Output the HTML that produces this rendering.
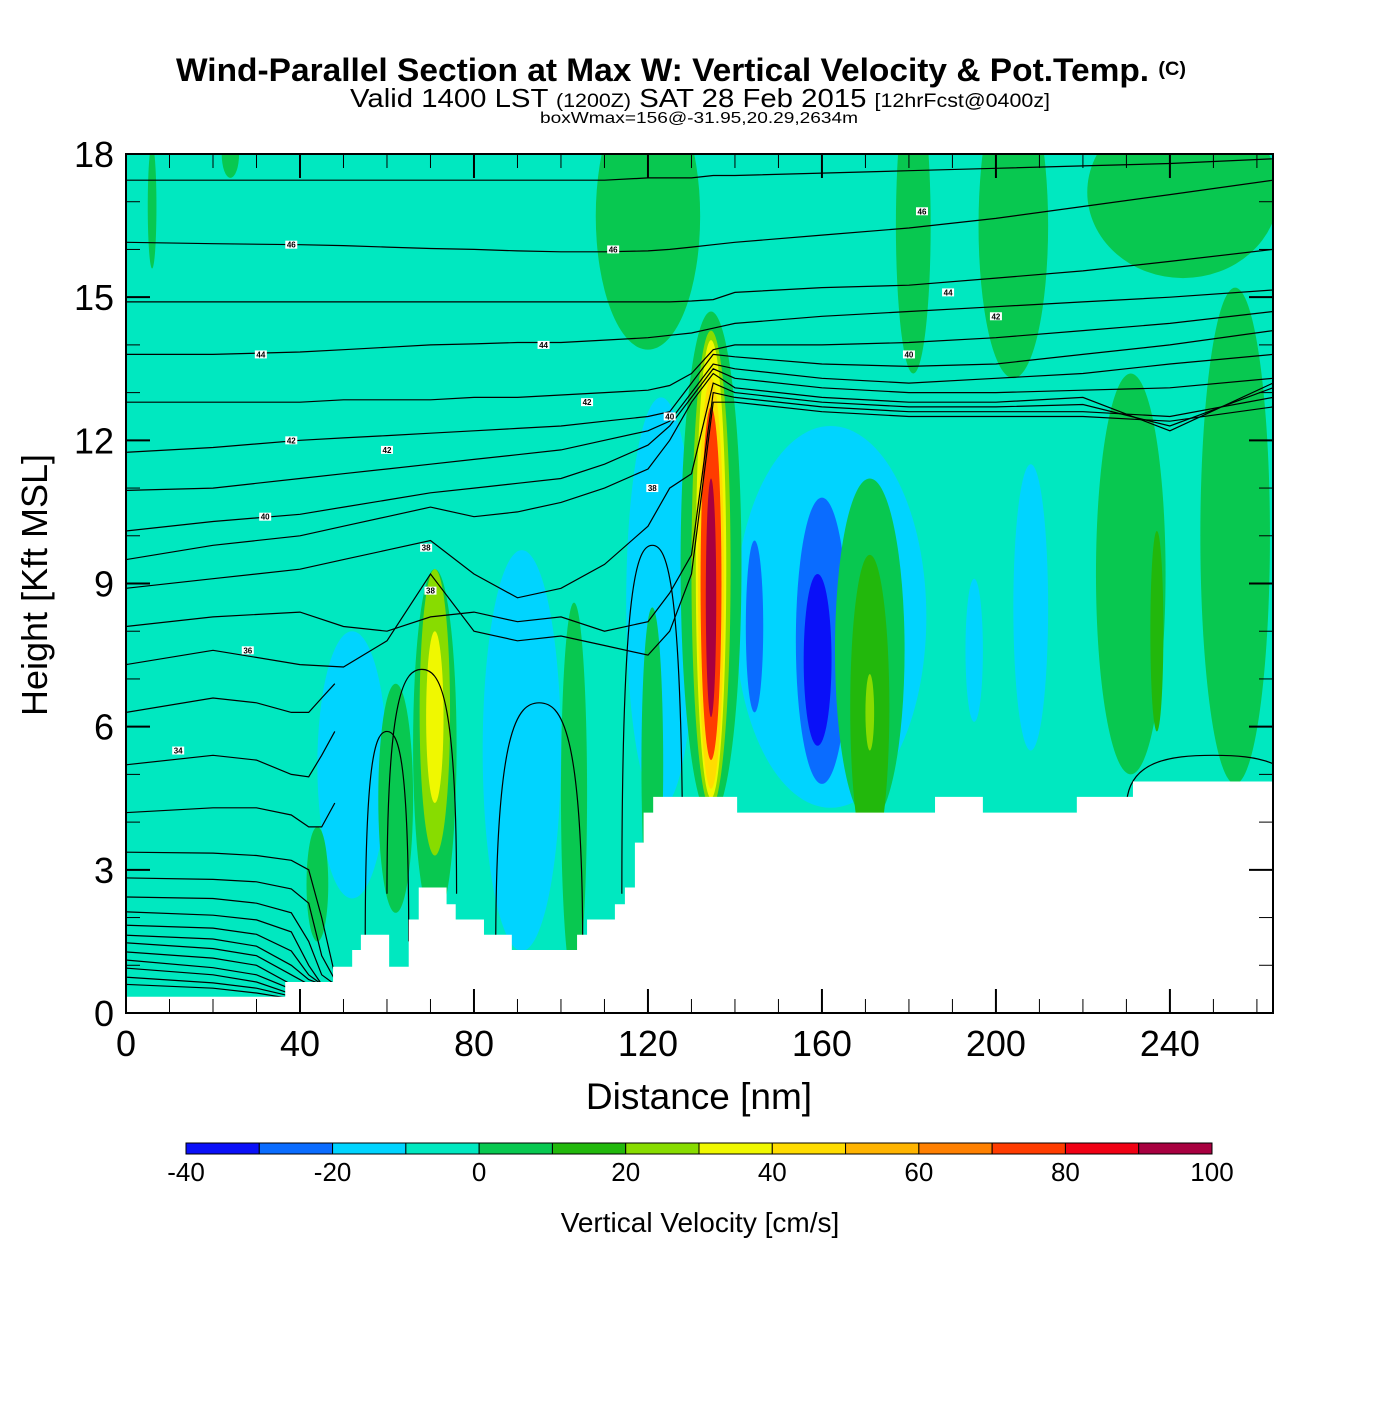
<!DOCTYPE html>
<html><head><meta charset="utf-8"><style>
body{margin:0;background:#fff;}
svg text{font-family:"Liberation Sans",sans-serif;}
</style></head><body>
<svg id="chart" width="1400" height="1400" viewBox="0 0 1400 1400" xmlns="http://www.w3.org/2000/svg">
<rect width="1400" height="1400" fill="#fff"/>
<text x="176" y="81" font-size="32" font-weight="bold" textLength="1010" lengthAdjust="spacingAndGlyphs">Wind-Parallel Section at Max W: Vertical Velocity &amp; Pot.Temp. <tspan font-size="19" dy="-6">(C)</tspan></text>
<text x="350" y="107" font-size="26" textLength="700" lengthAdjust="spacingAndGlyphs">Valid 1400 LST <tspan font-size="19">(1200Z)</tspan> SAT 28 Feb 2015 <tspan font-size="19">[12hrFcst@0400z]</tspan></text>
<text x="540" y="123" font-size="16" textLength="318" lengthAdjust="spacingAndGlyphs">boxWmax=156@-31.95,20.29,2634m</text>
<defs><clipPath id="plotclip"><rect x="126" y="154" width="1147" height="859"/></clipPath></defs>
<g id="plot" clip-path="url(#plotclip)"></g>
<g id="axes"></g>
<g id="cbar"></g>
<text x="699" y="1109" font-size="37" text-anchor="middle">Distance [nm]</text>
<text transform="translate(47,585) rotate(-90)" font-size="36" text-anchor="middle">Height [Kft MSL]</text>
<text x="700" y="1232" font-size="28" text-anchor="middle">Vertical Velocity [cm/s]</text>
</svg>
<script>
// ---- data ----
const levelColors = ["#0a10f8","#0a6cff","#00d4ff","#00e8c0","#08c850","#22b80c","#88dc00","#f0f800","#ffdc00","#ffb400","#ff8000","#ff3c00","#f00014","#a80040"];
const cbarTicks = [-40,-20,0,20,40,60,80,100];
const xTicks = [0,40,80,120,160,200,240];
const yTicks = [0,3,6,9,12,15,18];
// velocity features: center x (nm), center z (kft), half width (nm), half height (kft), level index
const blobX = [6,24,120,181,204,243,231,255, 52,91,123,162,208,195,160,144.5,159, 62,44,103,121,171,171,171, 71,71,71, 134.5,134.5,134.5,134.5,134.5,134.5,237];
const blobZ = [16.9,18,16.7,16.5,16.5,17.2,9.2,10, 5.2,5.5,8.6,8.3,8.5,7.6,7.8,8.1,7.4, 4.5,2.7,4.6,5.2,7.6,6.4,6.3, 5.6,6.3,6.2, 9.4,9.3,9.3,9.0,9.0,8.7,8.0];
const blobW = [1,2,12,4,8,22,8,8, 8,9,8,22,4,2,6,2,3.2, 4,2.5,3,2.5,8,4.5,1, 5,3.5,2, 7,4.5,3.5,3,2.4,1.2,1.5];
const blobH = [1.3,0.5,2.8,3.1,3.2,1.8,4.2,5.2, 2.8,4.2,4.3,4.0,3.0,1.5,3.0,1.8,1.8, 2.4,1.2,4.0,3.3,3.6,3.2,0.8, 3.7,3.0,1.8, 5.3,5.0,4.8,4.3,3.7,2.5,2.1];
const blobLvl = [4,4,4,4,4,4,4,4, 2,2,2,2,2,2,1,1,0, 4,4,4,4,4,5,6, 4,6,7, 4,6,7,8,11,13,5];
// terrain steps: left edge (nm), height (kft)
const terrX = [0,36.6,47.6,52,54,60.5,60.5,65,67.3,73.7,75.8,82.3,88.7,103.7,106,112.4,114.7,117,119,121.2,123.3,140.5,186,197,218.6,231.5,263.7];
const terrH = [0.34,0.65,0.97,1.32,1.64,1.64,0.97,1.96,2.63,2.28,1.96,1.64,1.32,1.64,1.96,2.28,2.63,3.57,4.2,4.53,4.53,4.2,4.53,4.2,4.53,4.85,4.85];
// potential temperature contours (upper group) at shared x positions
const thX = [0,20,40,50,60,70,80,90,100,110,120,125,130,135,140,160,180,200,220,240,263.7];
const th1 = [17.45,17.45,17.45,17.45,17.45,17.45,17.45,17.45,17.45,17.45,17.5,17.5,17.5,17.55,17.55,17.6,17.65,17.7,17.75,17.8,17.9];
const th2 = [16.15,16.12,16.1,16.08,16.05,16.02,16.0,15.97,15.95,15.95,15.97,16.0,16.05,16.1,16.15,16.3,16.45,16.65,16.9,17.15,17.45];
const th3 = [14.9,14.9,14.9,14.9,14.9,14.9,14.9,14.9,14.9,14.9,14.9,14.9,14.92,14.95,15.1,15.2,15.25,15.4,15.55,15.75,16.0];
const th4 = [13.8,13.8,13.85,13.9,13.95,14.0,14.02,14.05,14.05,14.1,14.15,14.2,14.25,14.35,14.45,14.6,14.7,14.8,14.9,15.0,15.15];
const th5 = [12.8,12.8,12.8,12.85,12.85,12.85,12.9,12.9,12.95,13.0,13.05,13.15,13.4,13.9,14.0,14.0,14.05,14.15,14.3,14.45,14.7];
const th6 = [11.75,11.85,12.0,12.05,12.1,12.15,12.2,12.25,12.3,12.4,12.5,12.6,13.2,13.8,13.75,13.6,13.55,13.6,13.8,14.0,14.3];
const th7 = [10.95,11.0,11.2,11.3,11.4,11.5,11.6,11.7,11.8,12.0,12.2,12.4,13.0,13.6,13.5,13.3,13.2,13.3,13.4,13.6,13.8];
const th8 = [10.1,10.3,10.45,10.6,10.75,10.9,11.0,11.1,11.2,11.5,11.9,12.3,12.9,13.5,13.3,13.1,13.0,13.0,13.05,13.1,13.3];
const th9 = [9.5,9.8,10.0,10.2,10.4,10.6,10.4,10.5,10.7,11.0,11.4,12.0,12.8,13.4,13.1,12.9,12.8,12.8,12.9,12.2,13.2];
const th10 = [8.9,9.1,9.3,9.5,9.7,9.9,9.2,8.7,8.9,9.4,10.2,11.0,11.3,13.2,13.0,12.8,12.7,12.7,12.75,12.3,13.1];
const th11 = [8.1,8.3,8.4,8.1,8.0,8.3,8.4,8.2,8.3,8.0,8.2,8.8,9.6,13.0,12.9,12.7,12.6,12.6,12.6,12.5,12.9];
const th12 = [7.3,7.6,7.3,7.25,7.8,9.2,8.0,7.8,7.9,7.7,7.5,8.0,9.2,12.8,12.8,12.6,12.5,12.5,12.5,12.4,12.7];
// lower-left contours
const lowX = [0,20,30,38,42,45,48];
const low1 = [6.3,6.6,6.5,6.3,6.3,6.6,6.9];
const low2 = [5.2,5.4,5.3,5.0,4.95,5.4,5.9];
const low3 = [4.2,4.3,4.3,4.15,3.9,3.9,4.4];
const low4 = [3.37,3.35,3.3,3.2,3.0,2.0,0.8];
const low5 = [2.83,2.8,2.75,2.6,2.3,1.2,0.7];
const low6 = [2.43,2.4,2.3,2.1,1.5,0.8,0.6];
const low7 = [2.12,2.05,1.95,1.7,1.0,0.6,0.6];
const low8 = [1.84,1.78,1.65,1.3,0.8,0.6,0.6];
const low9 = [1.63,1.55,1.4,1.0,0.7,0.6,0.6];
const low10 = [1.47,1.35,1.2,0.8,0.6,0.6,0.6];
const low11 = [1.28,1.15,1.0,0.6,0.6,0.6,0.6];
const low12 = [1.11,0.95,0.8,0.5,0.5,0.5,0.5];
const low13 = [0.94,0.8,0.65,0.4,0.4,0.4,0.4];
const low14 = [0.75,0.63,0.52,0.35,0.35,0.35,0.35];
const low15 = [0.6,0.52,0.42,0.3,0.3,0.3,0.3];
// closed theta loops over terrain: center x, center z, half width, top height
const loopX = [60,68,95,121,250];
const loopZ = [1.5,2.5,1.3,2.5,4.3];
const loopW = [5,8,10,7,20];
const loopTop = [5.9,7.2,6.5,9.8,5.4];
// contour labels
const labX = [38,31,60,12,28,112,96,106,38,32,69,70,121,125,180,189,200,183];
const labZ = [16.1,13.8,11.8,5.5,7.6,16.0,14.0,12.8,12.0,10.4,9.75,8.85,11.0,12.5,13.8,15.1,14.6,16.8];
const labT = ["46","44","42","34","36","46","44","42","42","40","38","38","38","40","40","44","42","46"];

// ---- axes ----
const NS="http://www.w3.org/2000/svg";
const X0=126,X1=1273,Y0=1013,Y1=154,XMAX=263.7,ZMAX=18;
const X=v=>X0+v*(X1-X0)/XMAX;
const Y=v=>Y0-v*(Y0-Y1)/ZMAX;
function mk(tag,attrs,parent){const e=document.createElementNS(NS,tag);for(const k in attrs)e.setAttribute(k,attrs[k]);parent.appendChild(e);return e;}
const plot=document.getElementById('plot'),axes=document.getElementById('axes'),cbar=document.getElementById('cbar');

let bg=mk('rect',{x:X0,y:Y1,width:X1-X0,height:Y0-Y1,fill:levelColors[3]},plot);


for(let i=0;i<blobX.length;i++){
  const e=mk('ellipse',{cx:X(blobX[i]),cy:Y(blobZ[i]),rx:X(blobW[i])-X(0),ry:Y(0)-Y(blobH[i]),fill:levelColors[blobLvl[i]]},plot);
  
  
}
function line(xs,zs,name){
  const p=xs.map((x,i)=>X(x).toFixed(1)+','+Y(zs[i]).toFixed(1)).join(' ');
  const l=mk('polyline',{points:p,fill:'none',stroke:'#000','stroke-width':1.2},plot);
  
  
}
[th1,th2,th3,th4,th5,th6,th7,th8,th9,th10,th11,th12].forEach(a=>line(thX,a,'theta-contour'));
[low1,low2,low3,low4,low5,low6,low7,low8,low9,low10,low11,low12,low13,low14,low15].forEach(a=>line(lowX,a,'theta-contour'));
for(let i=0;i<loopX.length;i++){
  const cx=X(loopX[i]),rx=X(loopW[i])-X(0),top=Y(loopTop[i]),bot=Y(loopZ[i]);
  const d=`M${cx-rx},${bot} C${cx-rx},${top+ (bot-top)*0.1} ${cx-rx*0.5},${top} ${cx},${top} C${cx+rx*0.5},${top} ${cx+rx},${top+(bot-top)*0.1} ${cx+rx},${bot}`;
  const l=mk('path',{d:d,fill:'none',stroke:'#000','stroke-width':1.2},plot);
  
  
}
// terrain
let td=`M${X(0)},${Y0}`;
for(let i=0;i<terrX.length-1;i++){td+=` L${X(terrX[i])},${Y(terrH[i])} L${X(terrX[i+1])},${Y(terrH[i])}`;}
td+=` L${X(XMAX)},${Y0} Z`;
const terr=mk('path',{d:td,fill:'#fff'},plot);


for(let i=0;i<labX.length;i++){
  const g=mk('g',{},plot);
  
  
  mk('rect',{x:X(labX[i])-6,y:Y(labZ[i])-4,width:12,height:8,fill:'#fff'},g);
  const t=mk('text',{x:X(labX[i]),y:Y(labZ[i])+3,'font-size':8,'font-weight':'bold','text-anchor':'middle'},g);
  t.textContent=labT[i];
}
// frame & ticks
const fr=mk('rect',{x:X0,y:Y1,width:X1-X0,height:Y0-Y1,fill:'none',stroke:'#000','stroke-width':2},axes);


for(let v=0;v<=260;v+=10){
  const major=v%40===0,L=major?24:14;
  mk('line',{x1:X(v),x2:X(v),y1:Y0,y2:Y0-L,stroke:'#000','stroke-width':major?2:1},axes);
  mk('line',{x1:X(v),x2:X(v),y1:Y1,y2:Y1+L,stroke:'#000','stroke-width':major?2:1},axes);
}
for(let v=0;v<=18;v+=1){
  const major=v%3===0,L=major?24:14;
  mk('line',{x1:X0,x2:X0+L,y1:Y(v),y2:Y(v),stroke:'#000','stroke-width':major?2:1},axes);
  mk('line',{x1:X1,x2:X1-L,y1:Y(v),y2:Y(v),stroke:'#000','stroke-width':major?2:1},axes);
}
xTicks.forEach(v=>{const t=mk('text',{x:X(v),y:1056,'font-size':36,'text-anchor':'middle'},axes);
  
  
  t.textContent=v;});
yTicks.forEach(v=>{const t=mk('text',{x:114,y:Y(v)+13,'font-size':36,'text-anchor':'end'},axes);
  
  
  t.textContent=v;});
// colorbar
const CB0=186,CB1=1212,cw=(CB1-CB0)/levelColors.length;
levelColors.forEach((c,i)=>{const r=mk('rect',{x:CB0+i*cw,y:1143,width:cw,height:11,fill:c,stroke:'#000','stroke-width':1},cbar);
  
  });
cbarTicks.forEach(v=>{const t=mk('text',{x:CB0+(v+40)/140*(CB1-CB0),y:1181,'font-size':26,'text-anchor':'middle'},cbar);
  
  
  t.textContent=v;});
</script>
</body></html>
